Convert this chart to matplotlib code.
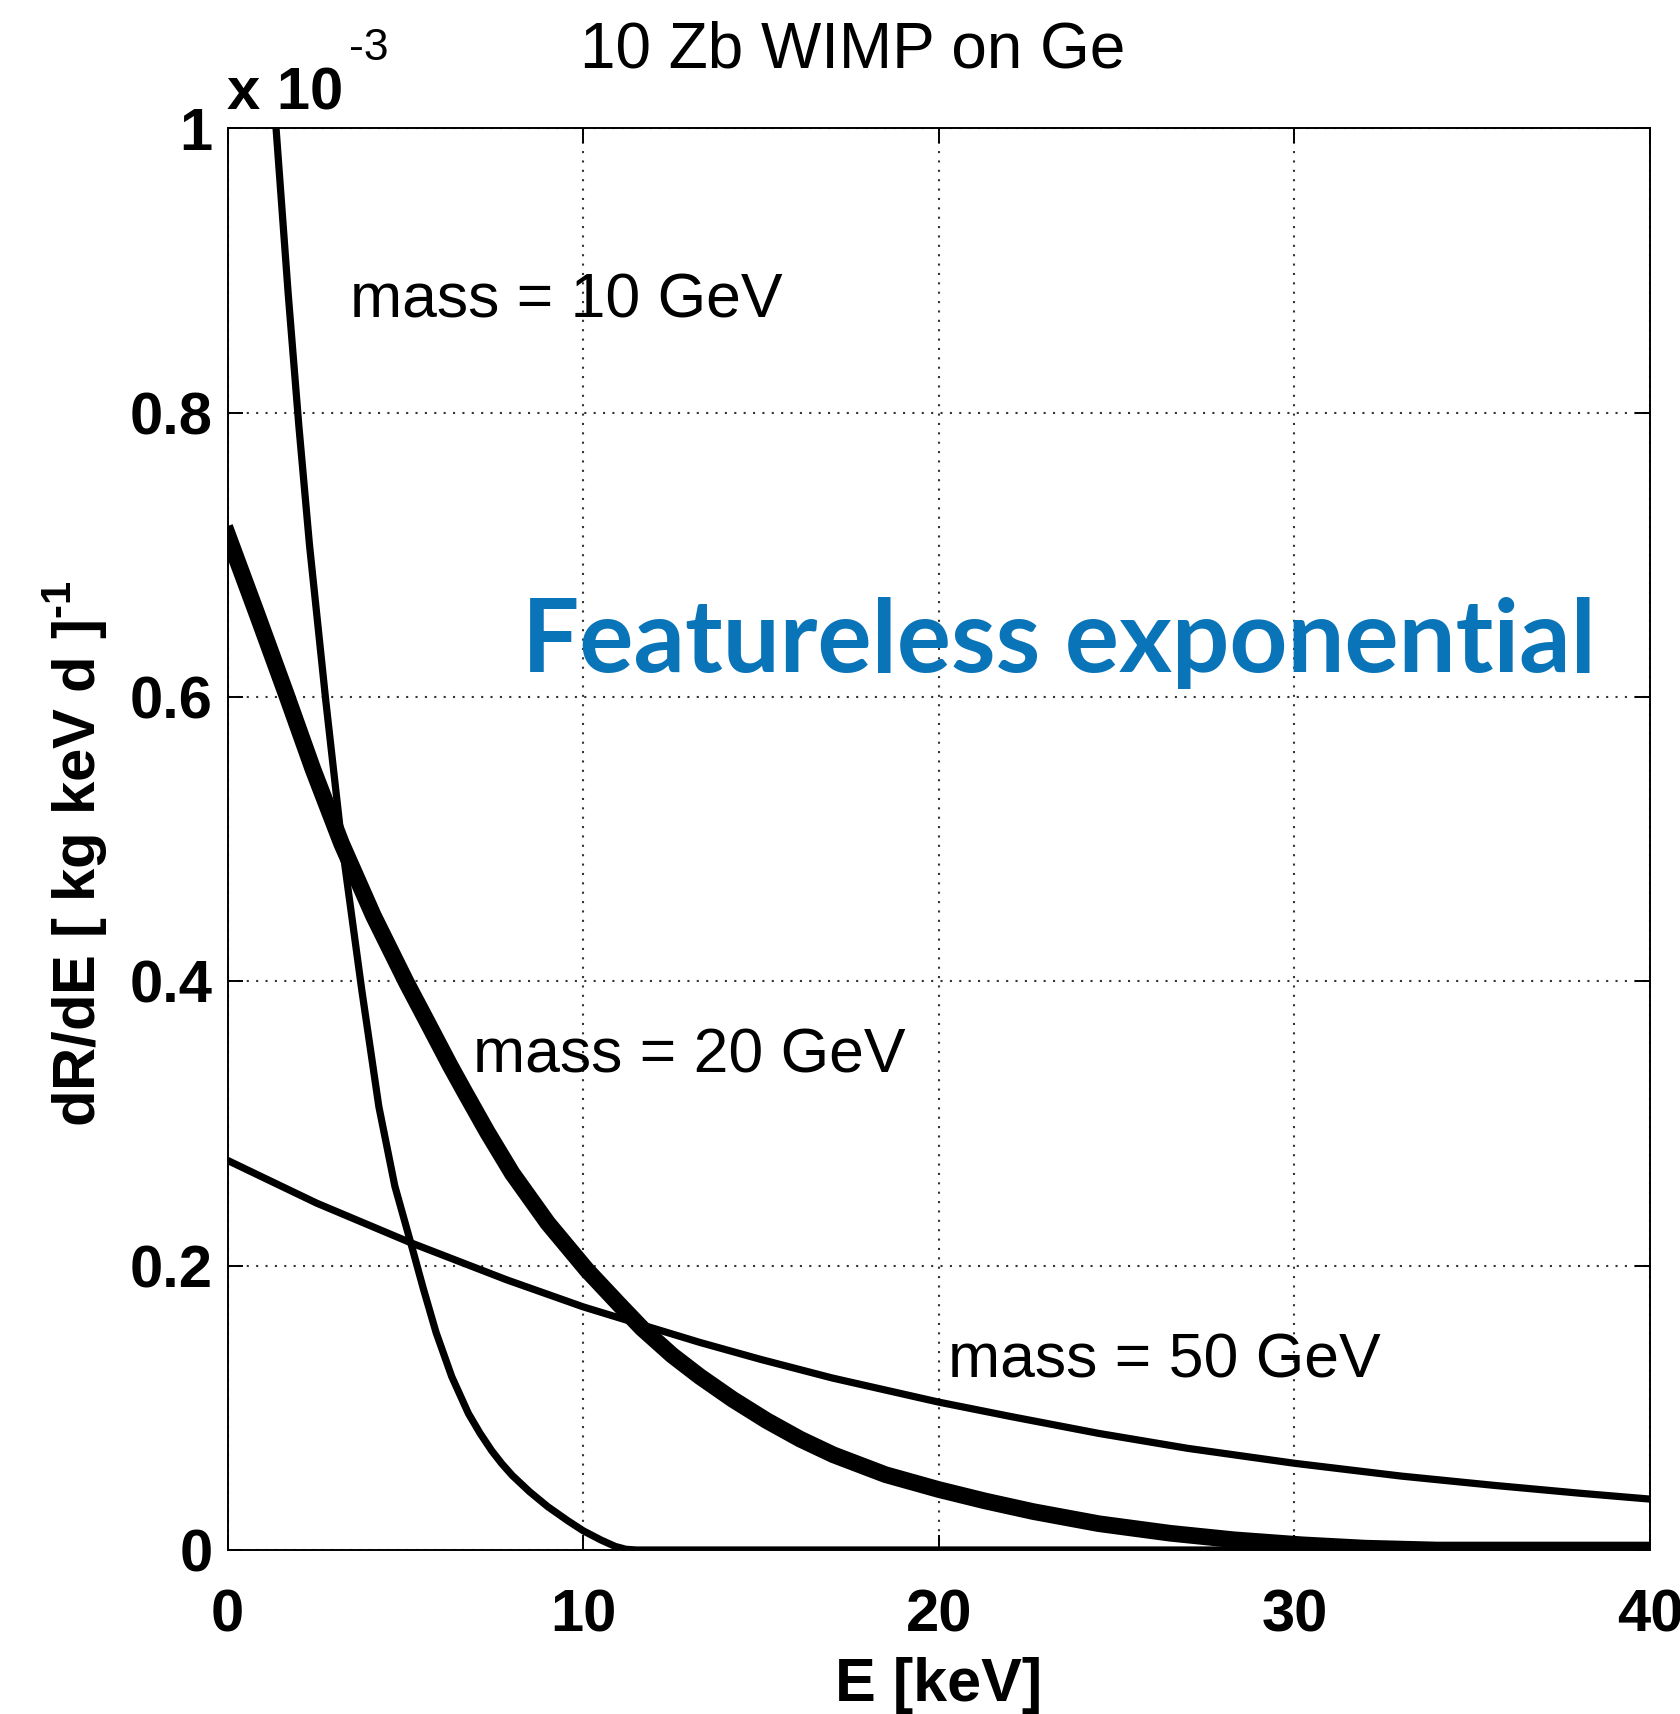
import matplotlib
matplotlib.use('Agg')
import matplotlib.pyplot as plt

plt.rcParams['font.family'] = ['Liberation Sans', 'DejaVu Sans']
plt.rcParams['mathtext.fontset'] = 'custom'
plt.rcParams['mathtext.rm'] = 'Liberation Sans:bold'
plt.rcParams['mathtext.bf'] = 'Liberation Sans:bold'

# ---- data (rates in units of 1e-3 per kg keV day) ----
E_10 = [0.0, 0.5, 1.0, 1.36, 1.7, 2.0, 2.3, 2.76, 3.2, 3.77, 4.25, 4.7, 5.16,
        5.5, 5.86, 6.3, 6.77, 7.1, 7.42, 7.7, 8.0, 8.49, 9.0, 9.57, 10.0, 10.5,
        10.9, 11.2, 11.5, 40.0]
R_10 = [1.95, 1.50, 1.14, 1.00, 0.884, 0.791, 0.707, 0.597, 0.499, 0.394,
        0.312, 0.256, 0.215, 0.184, 0.153, 0.122, 0.096, 0.082, 0.070, 0.061,
        0.0525, 0.041, 0.0305, 0.0205, 0.0135, 0.007, 0.0025, 0.0005, 0.0, 0.0]

E_20 = [0.0, 0.8, 1.66, 2.4, 3.2, 4.1, 5.03, 5.6, 6.25, 6.67, 7.3, 8.0, 9.0,
        10.1, 11.0, 11.65, 12.5, 13.28, 14.2, 15.16, 16.1, 17.03, 18.5, 20.0,
        21.3, 22.66, 24.5, 26.5, 28.3, 30.2, 32.0, 34.0, 40.0]
R_20 = [0.714, 0.660, 0.601, 0.549, 0.497, 0.446, 0.399, 0.372, 0.341, 0.322,
        0.294, 0.265, 0.230, 0.197, 0.173, 0.156, 0.137, 0.122, 0.106, 0.091,
        0.078, 0.067, 0.053, 0.0425, 0.0345, 0.027, 0.0185, 0.0118, 0.0072,
        0.0037, 0.0013, 0.0, 0.0]

E_50 = [0.0, 2.5, 5.16, 7.85, 10.0, 11.7, 13.28, 15.0, 17.0, 20.0, 22.0, 24.5,
        27.0, 30.0, 33.0, 35.6, 38.0, 40.0]
R_50 = [0.274, 0.244, 0.216, 0.190, 0.171, 0.158, 0.146, 0.134, 0.121, 0.104,
        0.094, 0.082, 0.0715, 0.061, 0.052, 0.0455, 0.040, 0.0358]

x_ticks = [0, 10, 20, 30, 40]
x_tick_labels = ['0', '10', '20', '30', '40']
y_ticks = [0, 0.2, 0.4, 0.6, 0.8, 1.0]
y_tick_labels = ['0', '0.2', '0.4', '0.6', '0.8', '1']

labels = ['mass = 10 GeV', 'mass = 20 GeV', 'mass = 50 GeV']
label_pos = [(3.44, 0.867), (6.89, 0.336), (20.27, 0.121)]

# ---- figure ----
W, H = 1680, 1714
fig = plt.figure(figsize=(W / 100, H / 100), dpi=100)
L, R, T, B = 227.7, 1650, 128.3, 1550
ax = fig.add_axes([L / W, 1 - B / H, (R - L) / W, (B - T) / H])

ax.grid(True, linestyle=(0, (1, 3.5)), color='0.2', linewidth=1.5, zorder=0)
ax.set_axisbelow(True)

ax.plot(E_50, R_50, color='black', lw=5.2, solid_joinstyle='round', zorder=3)
ax.plot(E_10, R_10, color='black', lw=5.2, solid_joinstyle='round', zorder=3)
ax.plot(E_20, R_20, color='black', lw=12.0, solid_joinstyle='round', zorder=3)

ax.set_xlim(0, 40)
ax.set_ylim(0, 1)
ax.set_xticks(x_ticks)
ax.set_yticks(y_ticks)
ax.set_xticklabels(x_tick_labels, fontsize=43, fontweight='bold')
ax.set_yticklabels(y_tick_labels, fontsize=43, fontweight='bold')
ax.tick_params(direction='in', length=11, width=1.4, top=True, right=True)
ax.tick_params(axis='x', pad=28)
ax.tick_params(axis='y', pad=11)
for s in ax.spines.values():
    s.set_linewidth(1.4)
    s.set_color('black')

ax.set_xlabel('E [keV]', fontsize=44, fontweight='bold')
ax.xaxis.set_label_coords(0.5, -0.075)
ax.set_ylabel(r'dR/dE [ kg keV d ]$^{\text{-1}}$', fontsize=43, fontweight='bold')
ax.yaxis.set_label_coords(-0.083, 0.49)

for txt, (x, y) in zip(labels, label_pos):
    ax.text(x, y, txt, fontsize=45, ha='left', va='baseline', zorder=4)

ax.text(8.29, 0.6176, 'Featureless exponential', fontsize=73, fontweight='bold',
        color='#0a74b8', family=['Lato', 'DejaVu Sans'], ha='left', va='baseline', zorder=4)

# offset multiplier and title
fig.text(227 / W, 1 - 109 / H, 'x 10', fontsize=43, fontweight='bold', ha='left', va='baseline')
fig.text(349 / W, 1 - 60 / H, '-3', fontsize=32, ha='left', va='baseline')
fig.text(580 / W, 1 - 68 / H, '10 Zb WIMP on Ge', fontsize=46, ha='left', va='baseline')

fig.savefig('out.png', dpi=100)
